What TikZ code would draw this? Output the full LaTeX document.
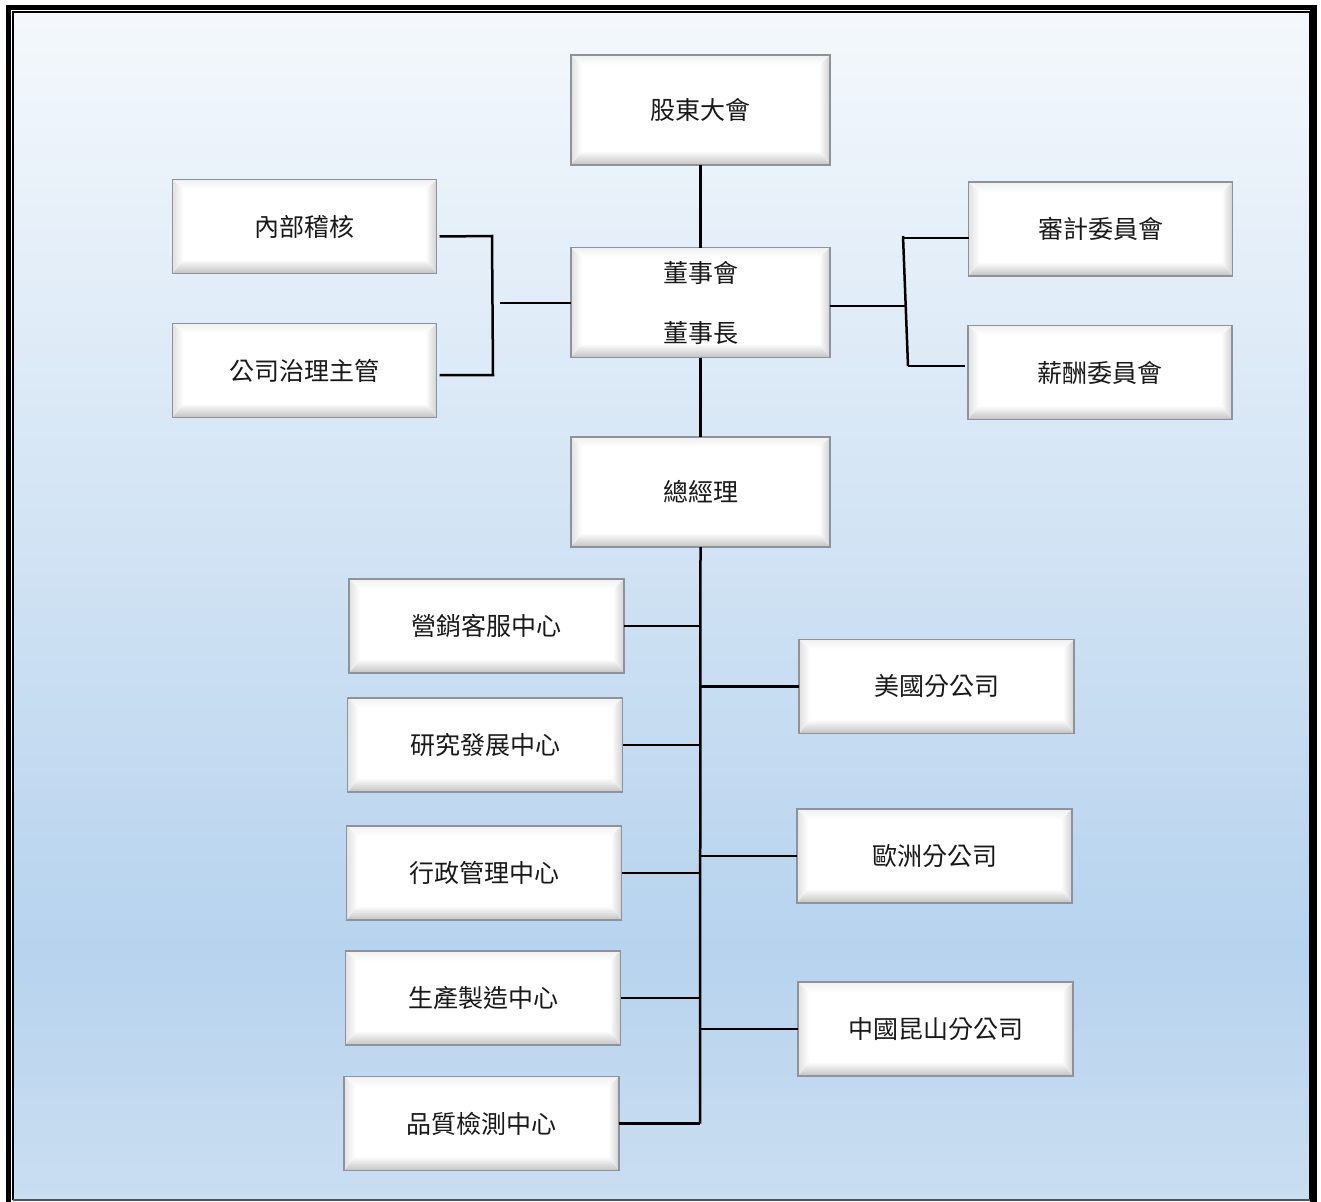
\documentclass[tikz,border=0pt]{standalone}
\usepackage{fontspec}
\newfontfamily\cjk{Noto Sans CJK TC}
\definecolor{bgtop}{HTML}{F4F8FC}
\definecolor{bgmid}{HTML}{B7D3EE}
\definecolor{bgbot}{HTML}{CADEF1}
\definecolor{boxline}{HTML}{8E939B}
\definecolor{botline}{HTML}{4A5560}
\tikzset{
  box/.style={draw=boxline, line width=1.2pt, fill=white, inner sep=0pt, outer sep=0pt,
    align=center, text=black!90,
    font=\cjk\fontsize{25pt}{29pt}\selectfont,
    path picture={
      \path (path picture bounding box.south west) coordinate (pa)
            (path picture bounding box.north east) coordinate (pb);
      \shade[top color=white, bottom color=black!24]
        (pa) -- (pa -| pb) -- ([shift={(-11pt,14pt)}]pa -| pb) -- ([shift={(11pt,14pt)}]pa) -- cycle;
      \shade[left color=white, right color=black!18]
        (pa -| pb) -- (pb) -- ([shift={(-11pt,-10pt)}]pb) -- ([shift={(-11pt,14pt)}]pa -| pb) -- cycle;
      \shade[right color=white, left color=black!12]
        (pa) -- (pa |- pb) -- ([shift={(11pt,-10pt)}]pa |- pb) -- ([shift={(11pt,14pt)}]pa) -- cycle;
      \shade[bottom color=white, top color=black!6]
        (pb) -- (pa |- pb) -- ([shift={(11pt,-10pt)}]pa |- pb) -- ([shift={(-11pt,-10pt)}]pb) -- cycle;
    }},
  bigbox/.style={box, minimum width=259pt, minimum height=110pt},
  sidebox/.style={box, minimum width=264pt, minimum height=94pt},
  deptbox/.style={box, minimum width=275pt, minimum height=94pt},
  ln/.style={line width=2.5pt, black}
}
\begin{document}
\begin{tikzpicture}[x=1pt,y=-1pt]
\useasboundingbox (0,0) rectangle (1321,1201);
% background
\shade[top color=bgtop, bottom color=bgmid] (14,13) rectangle (1308.5,950);
\shade[top color=bgmid, bottom color=bgbot] (14,949.5) rectangle (1308.5,1199);
% frame
\draw[line width=5pt] (8.5,1215) -- (8.5,7.5) -- (1312.5,7.5) -- (1312.5,1215);
\draw[line width=1.8pt] (13,1199.5) -- (13,12) -- (1309.5,12) -- (1309.5,1199.5);
\draw[line width=1.8pt] (1316.3,5) -- (1316.3,1215);
\draw[line width=1.5pt, botline] (13,1199.8) -- (1309.5,1199.8);

% boxes
\node[bigbox] (gd) at (700.5,110) {股東大會};
\node[bigbox, font=\cjk\fontsize{25pt}{60pt}\selectfont] (db) at (700.5,302.5) {董事會\\董事長};
\node[bigbox] (zj) at (700.5,492) {總經理};
\node[sidebox] (nb) at (304.5,226.5) {內部稽核};
\node[sidebox] (gs) at (304.5,370.5) {公司治理主管};
\node[sidebox] (sj) at (1100.5,229) {審計委員會};
\node[sidebox] (xc) at (1100,372.5) {薪酬委員會};
\node[deptbox] (yx) at (486.5,626) {營銷客服中心};
\node[deptbox] (yf) at (485,745) {研究發展中心};
\node[deptbox] (xz) at (484,873) {行政管理中心};
\node[deptbox] (sc) at (483,998) {生產製造中心};
\node[deptbox] (pz) at (481.5,1123.5) {品質檢測中心};
\node[deptbox] (mg) at (936.5,686.5) {美國分公司};
\node[deptbox] (oz) at (934.5,856) {歐洲分公司};
\node[deptbox] (zg) at (935.5,1029) {中國昆山分公司};

% connectors
\draw[ln] (gd.south) -- (db.north);
\draw[ln] (db.south) -- (zj.north);
% left bracket
\coordinate (lb1) at (492,236);
\coordinate (lb2) at (493,375);
\draw[ln] ([shift={(3pt,-10pt)}]nb.east) -- (lb1) -- (lb2) -- ([shift={(3pt,-4.5pt)}]gs.east);
\coordinate (lj) at (500,303);
\draw[ln] (lj) -- (db.west |- lj);
% right bracket
\coordinate (rj) at (907,306);
\coordinate (rb1) at (903,236);
\coordinate (rb2) at (908,366);
\draw[ln] (db.east |- rj) -- (rj);
\draw[ln] (rb1) -- (rb2);
\draw[ln] (903,238) -- (sj.west |- 0,238);
\draw[ln] (rb2) -- ([shift={(-3pt,6.5pt)}]xc.west);
% spine
\coordinate (sp) at (700,1123.5);
\draw[ln] (zj.south) -- (sp);
\foreach \n in {yx,yf,xz,sc,pz} {\draw[ln] (\n.east) -- (sp |- \n.east);}
\foreach \n in {mg,oz,zg} {\draw[ln] (\n.west) -- (sp |- \n.west);}
\end{tikzpicture}
\end{document}
